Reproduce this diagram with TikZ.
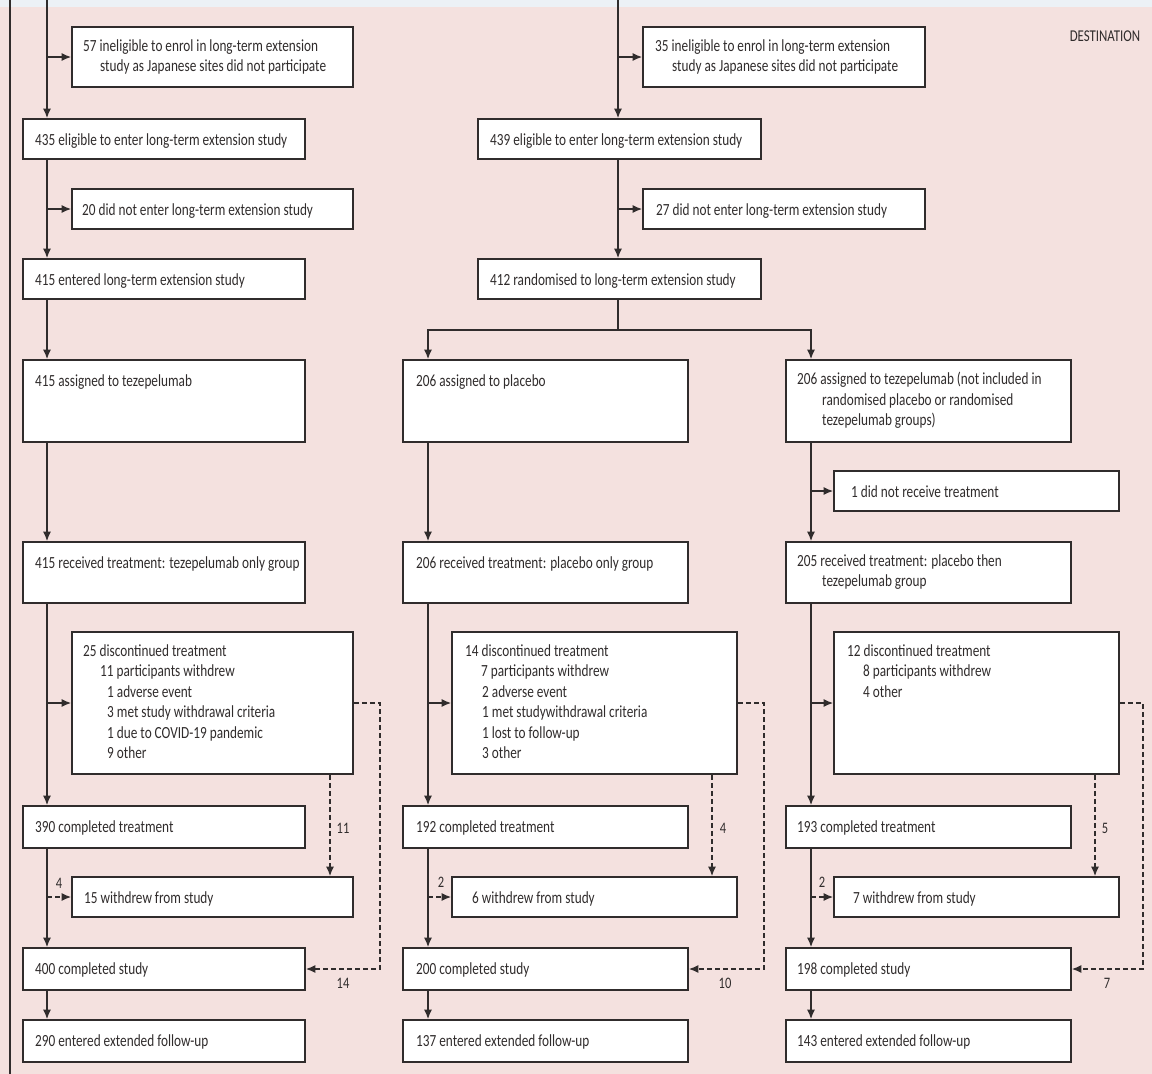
\documentclass[tikz,border=0pt]{standalone}
\usepackage{fontspec}
\setmainfont{Carlito}[FakeStretch=0.78]
\usetikzlibrary{arrows.meta}
\definecolor{bgpink}{RGB}{244,225,223}
\definecolor{topstrip}{RGB}{236,241,246}
\definecolor{ink}{RGB}{48,44,44}
\newcommand\bx[5]{\node[fbox, minimum width={#4-#2}, minimum height={#5-#3}] (#1) at ({(#2+#4)/2},{(#3+#5)/2}) {};}
\newcommand\tx[4]{\node[txt] (#1) at (#2,#3) {#4};}
\newcommand\ind[1]{\hspace*{#1pt}}
\begin{document}
\begin{tikzpicture}[x=1pt,y=-1pt,
  fbox/.style={draw=ink, line width=1.6pt, fill=white, inner sep=0pt, rectangle},
  txt/.style={anchor=north west, inner sep=0pt, align=left, text=ink, font=\fontsize{17}{20.5}\selectfont, execute at begin node={\rule{0pt}{14pt}}},
  ln/.style={draw=ink, line width=1.5pt},
  arr/.style={ln, -{Latex[length=9.5pt,width=8pt]}},
  dsh/.style={arr, dash pattern=on 5pt off 3pt},
  lbl/.style={text=ink, inner sep=0pt, font=\fontsize{16}{18}\selectfont}
]
\path[fill=bgpink] (0,0) rectangle (1152,1074);
\path[fill=topstrip] (0,0) rectangle (1152,7);
\useasboundingbox (0,0) rectangle (1152,1074);
\coordinate (bt) at (10,0);
\coordinate (bb) at (10,1074);
\draw[ln] (bt) -- (bb);
\node[text=ink, inner sep=0pt, font=\fontsize{16.5}{18}\selectfont] (dest) at (1105,36) {DESTINATION};

% ---------- column 1 ----------
\bx{inA}{72}{27}{353}{87}
\bx{elA}{23}{119}{305}{159}
\bx{dnA}{72}{189}{353}{229}
\bx{enA}{23}{259}{305}{299}
\bx{asA}{23}{360}{305}{442}
\bx{rcA}{23}{542}{305}{603}
\bx{dcA}{72}{632}{353}{774}
\bx{ctA}{23}{806}{305}{848}
\bx{wdA}{72}{877}{353}{917}
\bx{csA}{23}{948}{305}{990}
\bx{fuA}{23}{1020}{305}{1062}
\tx{tinA}{83}{39}{57 ineligible to enrol in long-term extension\\\ind{17}study as Japanese sites did not participate}
\tx{telA}{35}{131}{435 eligible to enter long-term extension study}
\tx{tdnA}{82}{201}{20 did not enter long-term extension study}
\tx{tenA}{35}{271}{415 entered long-term extension study}
\tx{tasA}{35}{372}{415 assigned to tezepelumab}
\tx{trcA}{35}{554}{415 received treatment: tezepelumab only group}
\tx{tdcA}{83}{644}{25 discontinued treatment\\\ind{17}11 participants withdrew\\\ind{24}1 adverse event\\\ind{24}3 met study withdrawal criteria\\\ind{24}1 due to COVID-19 pandemic\\\ind{24}9 other}
\tx{tctA}{35}{818}{390 completed treatment}
\tx{twdA}{84}{889}{15 withdrew from study}
\tx{tcsA}{35}{960}{400 completed study}
\tx{tfuA}{35}{1032}{290 entered extended follow-up}

% ---------- column 2 ----------
\bx{inB}{643}{27}{925}{87}
\bx{elB}{478}{119}{761}{159}
\bx{dnB}{643}{189}{925}{229}
\bx{rnB}{478}{259}{761}{299}
\bx{asB}{403}{360}{688}{442}
\bx{rcB}{403}{542}{688}{603}
\bx{dcB}{452}{632}{737}{774}
\bx{ctB}{403}{806}{688}{848}
\bx{wdB}{452}{877}{737}{917}
\bx{csB}{403}{948}{688}{990}
\bx{fuB}{403}{1020}{688}{1062}
\tx{tinB}{655}{39}{35 ineligible to enrol in long-term extension\\\ind{17}study as Japanese sites did not participate}
\tx{telB}{490}{131}{439 eligible to enter long-term\ extension study}
\tx{tdnB}{656}{201}{27 did not enter long-term extension study}
\tx{trnB}{490}{271}{412 randomised to long-term extension\ study}
\tx{tasB}{416}{372}{206 assigned to placebo}
\tx{trcB}{416}{554}{206 received treatment: placebo only group}
\tx{tdcB}{465}{644}{14 discontinued treatment\\\ind{16}7 participants withdrew\\\ind{17}2 adverse event\\\ind{17}1 met studywithdrawal criteria\\\ind{17}1 lost to follow-up\\\ind{17}3 other}
\tx{tctB}{416}{818}{192 completed treatment}
\tx{twdB}{472}{889}{6 withdrew from study}
\tx{tcsB}{416}{960}{200 completed study}
\tx{tfuB}{416}{1032}{137 entered extended follow-up}

% ---------- column 3 ----------
\bx{asC}{786}{360}{1071}{442}
\bx{nrC}{834}{471}{1119}{511}
\bx{rcC}{786}{542}{1071}{603}
\bx{dcC}{834}{632}{1119}{774}
\bx{ctC}{786}{806}{1071}{848}
\bx{wdC}{834}{877}{1119}{917}
\bx{csC}{786}{948}{1071}{990}
\bx{fuC}{786}{1020}{1071}{1062}
\tx{tasC}{797}{372}{206 assigned to tezepelumab (not included in\\\ind{25}randomised placebo or randomised\\\ind{25}tezepelumab groups)}
\tx{tnrC}{851}{483}{1 did not receive treatment}
\tx{trcC}{797}{554}{205 received treatment: placebo then\\\ind{25}tezepelumab group}
\tx{tdcC}{847}{644}{12 discontinued treatment\\\ind{16}8 participants withdrew\\\ind{16}4 other}
\tx{tctC}{797}{818}{193 completed treatment}
\tx{twdC}{853}{889}{7 withdrew from study}
\tx{tcsC}{797}{960}{198 completed study}
\tx{tfuC}{797}{1032}{143 entered extended follow-up}

% ---------- guide coordinates ----------
\coordinate (xA) at (47,0);
\coordinate (xB) at (618,0);
\coordinate (xB2) at (428,0);
\coordinate (xC) at (811,0);
\coordinate (split) at (618,330);
\coordinate (dA) at (330,0);
\coordinate (dB) at (712,0);
\coordinate (dC) at (1095,0);

% ---------- connectors column 1 ----------
\draw[arr] (xA) -- (xA |- elA.north);
\draw[arr] (xA |- inA.west) -- (inA.west);
\draw[arr] (xA |- elA.south) -- (xA |- enA.north);
\draw[arr] (xA |- dnA.west) -- (dnA.west);
\draw[arr] (xA |- enA.south) -- (xA |- asA.north);
\draw[arr] (xA |- asA.south) -- (xA |- rcA.north);
\draw[arr] (xA |- rcA.south) -- (xA |- ctA.north);
\draw[arr] (xA |- dcA.west) -- (dcA.west);
\draw[arr] (xA |- ctA.south) -- (xA |- csA.north);
\draw[dsh] (xA |- wdA.west) -- (wdA.west);
\draw[arr] (xA |- csA.south) -- (xA |- fuA.north);
\draw[dsh] (dA |- dcA.south) -- (dA |- wdA.north);
\draw[dsh] (dcA.east) -- ++(26,0) |- (csA.east);

% ---------- connectors column 2 ----------
\draw[arr] (xB) -- (xB |- elB.north);
\draw[arr] (xB |- inB.west) -- (inB.west);
\draw[arr] (xB |- elB.south) -- (xB |- rnB.north);
\draw[arr] (xB |- dnB.west) -- (dnB.west);
\draw[ln] (xB |- rnB.south) -- (split);
\draw[arr] (split) -| (xB2 |- asB.north);
\draw[arr] (split) -| (xC |- asC.north);
\draw[arr] (xB2 |- asB.south) -- (xB2 |- rcB.north);
\draw[arr] (xB2 |- rcB.south) -- (xB2 |- ctB.north);
\draw[arr] (xB2 |- dcB.west) -- (dcB.west);
\draw[arr] (xB2 |- ctB.south) -- (xB2 |- csB.north);
\draw[dsh] (xB2 |- wdB.west) -- (wdB.west);
\draw[arr] (xB2 |- csB.south) -- (xB2 |- fuB.north);
\draw[dsh] (dB |- dcB.south) -- (dB |- wdB.north);
\draw[dsh] (dcB.east) -- ++(26,0) |- (csB.east);

% ---------- connectors column 3 ----------
\draw[arr] (xC |- asC.south) -- (xC |- rcC.north);
\draw[arr] (xC |- nrC.west) -- (nrC.west);
\draw[arr] (xC |- rcC.south) -- (xC |- ctC.north);
\draw[arr] (xC |- dcC.west) -- (dcC.west);
\draw[arr] (xC |- ctC.south) -- (xC |- csC.north);
\draw[dsh] (xC |- wdC.west) -- (wdC.west);
\draw[arr] (xC |- csC.south) -- (xC |- fuC.north);
\draw[dsh] (dC |- dcC.south) -- (dC |- wdC.north);
\draw[dsh] (dcC.east) -- ++(23,0) |- (csC.east);

% ---------- labels ----------
\node[lbl] (l11) at (343,828) {11};
\node[lbl] (l14) at (343,983) {14};
\node[lbl] (l4a) at (59,883) {4};
\node[lbl] (l4b) at (723,828) {4};
\node[lbl] (l10) at (725,983) {10};
\node[lbl] (l2b) at (441,882) {2};
\node[lbl] (l5) at (1105,828) {5};
\node[lbl] (l7) at (1107,983) {7};
\node[lbl] (l2c) at (822,882) {2};
\end{tikzpicture}
\end{document}
